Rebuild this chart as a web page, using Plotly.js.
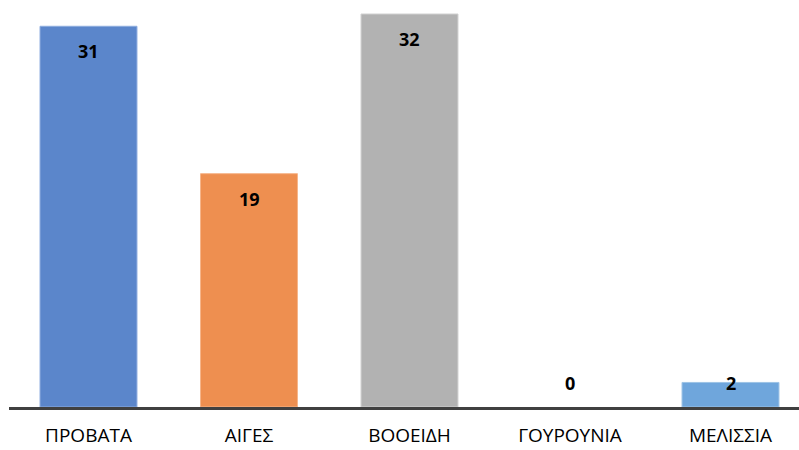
<!DOCTYPE html>
<html>
<head>
<meta charset="utf-8">
<script src="https://cdn.plot.ly/plotly-3.0.1.min.js"></script>
<style>html,body{margin:0;padding:0;background:#fff;}#chart{width:799px;height:450px;}</style>
</head>
<body>
<div id="chart"></div>
<script>
const categories = ["ΠΡΟΒΑΤΑ", "ΑΙΓΕΣ", "ΒΟΟΕΙΔΗ", "ΓΟΥΡΟΥΝΙΑ", "ΜΕΛΙΣΣΙΑ"];
const values = [31, 19, 32, 0, 2];
const barColors = ["#5B86CB", "#EE8F50", "#B2B2B2", "#FFC000", "#6FA6DC"];
const borderColors = ["#8EADDF", "#F6B58A", "#D0D0D0", "#FFD966", "#9DC3E6"];

const annotations = values.map((v, i) => ({
  x: categories[i],
  y: v < 5 ? 0 : v,
  xref: 'x', yref: 'y',
  text: '<b>' + v + '</b>',
  showarrow: false,
  yanchor: 'middle',
  yshift: v < 5 ? 24 : -25,
  font: {family: 'Open Sans, sans-serif', size: 18, color: '#000'}
}));

const trace = {
  type: 'bar',
  x: categories,
  y: values,
  marker: {
    color: barColors,
    line: {color: borderColors, width: values.map(v => v > 0 ? 1 : 0)}
  },
  hoverinfo: 'none'
};

const layout = {
  width: 799, height: 450,
  margin: {l: 9, r: 0, t: 0, b: 43, pad: 0},
  paper_bgcolor: '#fff', plot_bgcolor: '#fff',
  bargap: 0.396,
  showlegend: false,
  xaxis: {
    range: [-0.4953, 4.4268],
    showline: true, linecolor: '#404040', linewidth: 3,
    ticks: '', showgrid: false, zeroline: false,
    tickfont: {family: 'Open Sans, sans-serif', size: 19, color: '#000'},
    ticklabelstandoff: 9
  },
  yaxis: {
    range: [0, 33.14], visible: false, showgrid: false, zeroline: false
  },
  annotations: annotations
};

Plotly.newPlot('chart', [trace], layout, {displayModeBar: false, staticPlot: true});
</script>
</body>
</html>
